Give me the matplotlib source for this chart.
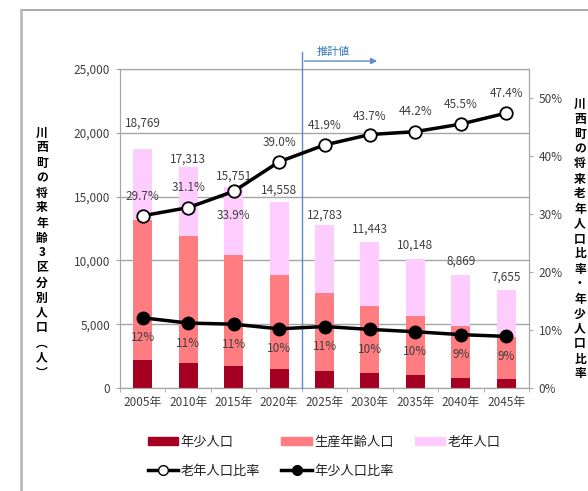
import numpy as np
import matplotlib
matplotlib.use("Agg")
import matplotlib.pyplot as plt
from matplotlib.lines import Line2D
from matplotlib.patches import Patch

plt.rcParams['font.family'] = ['Noto Sans CJK JP', 'DejaVu Sans']

years = ['2005年', '2010年', '2015年', '2020年', '2025年', '2030年', '2035年', '2040年', '2045年']
total = [18769, 17313, 15751, 14558, 12783, 11443, 10148, 8869, 7655]
youth = [2230, 1940, 1730, 1490, 1330, 1170, 985, 820, 680]
working = [10965, 9989, 8681, 7390, 6097, 5272, 4678, 4014, 3347]
elderly = [5574, 5384, 5340, 5678, 5356, 5001, 4485, 4035, 3628]
eld_ratio = [29.7, 31.1, 33.9, 39.0, 41.9, 43.7, 44.2, 45.5, 47.4]
youth_ratio = [12.1, 11.2, 11.0, 10.2, 10.6, 10.1, 9.7, 9.2, 8.9]

# label offsets in pixels (hand tuned to the original layout)
tot_off = [-25, -8, -11, -12, -10, -13, -13, -14, -13]
eld_off = [-19, -20, 24, -19, -19, -18, -20, -20, -20]

c_youth = '#A50021'
c_work = '#FF7C80'
c_eld = '#FFCCFF'
txt = '#404040'
grid = '#A6A6A6'

fig = plt.figure(figsize=(5.88, 4.91), dpi=100)
ax = fig.add_axes([120/588, 1-388/491, 409/588, 319/491])
x = np.arange(len(years))
w = 0.42
ax.bar(x, youth, w, color=c_youth, zorder=2)
ax.bar(x, working, w, bottom=youth, color=c_work, zorder=2)
ax.bar(x, elderly, w, bottom=np.array(youth)+np.array(working), color=c_eld, zorder=2)

ax.set_xlim(-0.5, len(years)-0.5)
ax.set_ylim(0, 25000)
ax.set_yticks(np.arange(0, 25001, 5000))
ax.set_yticklabels([f'{v:,}' for v in range(0, 25001, 5000)], fontsize=8.5, color=txt)
ax.set_xticks(x)
ax.set_xticklabels(years, fontsize=8.5, color=txt)
ax.set_xticks(np.arange(-0.5, len(years)), minor=True)
ax.tick_params(axis='x', which='major', length=0, pad=6)
ax.tick_params(axis='x', which='minor', length=3, color=grid)
ax.tick_params(axis='y', length=3, color=grid, pad=4)
ax.yaxis.grid(True, color=grid, lw=1)
ax.set_axisbelow(True)
for s in ax.spines.values():
    s.set_color(grid)

for i, t in enumerate(total):
    ax.annotate(f'{t:,}', (x[i], t), xytext=(0, -tot_off[i]), textcoords='offset pixels',
                ha='center', va='center', fontsize=8.5, color=txt, zorder=5)

ax2 = ax.twinx()
ax2.set_ylim(0, 55)
ax2.set_yticks(np.arange(0, 51, 10))
ax2.set_yticklabels([f'{v}%' for v in range(0, 51, 10)], fontsize=8.5, color=txt)
ax2.tick_params(axis='y', length=3, color=grid, pad=4)
for s in ax2.spines.values():
    s.set_color(grid)

ax2.plot(x, eld_ratio, color='black', lw=2.5, marker='o', ms=9, mfc='white', mec='black', mew=1.3, zorder=4)
ax2.plot(x, youth_ratio, color='black', lw=2.5, marker='o', ms=9, mfc='black', mec='black', zorder=4)
for i, r in enumerate(eld_ratio):
    ax2.annotate(f'{r:.1f}%', (x[i], r), xytext=(0, -eld_off[i]), textcoords='offset pixels',
                 ha='center', va='center', fontsize=8.5, color=txt, zorder=5)
for i, r in enumerate(youth_ratio):
    ax2.annotate(f'{r:.0f}%', (x[i], r), xytext=(0, -20), textcoords='offset pixels',
                 ha='center', va='center', fontsize=8.5, color=txt, zorder=5)

# projection marker
blue = '#5B8BD0'
ax2.axvline(3.5, ymin=0, ymax=1.053, color=blue, lw=1, clip_on=False, zorder=3)
ax2.annotate('', xy=(5.22, 1.025), xytext=(3.5, 1.025), xycoords=('data', 'axes fraction'),
             arrowprops=dict(arrowstyle='-|>', color=blue, lw=1, mutation_scale=9))
ax2.text(4.19, 1.053, '推計値', transform=ax2.get_xaxis_transform(), ha='center', va='center',
         fontsize=8, color='#2E75B6')

# vertical axis titles
left_title = '川西町の将来年齢3区分別人口︵人︶'
right_title = '川西町の将来老年人口比率・年少人口比率'
fig.text(42/588, 1-253/491, '\n'.join(left_title), ha='center', va='center', fontsize=8.5,
         fontweight='bold', linespacing=1.2)
fig.text(580/588, 1-239/491, '\n'.join(right_title), ha='center', va='center', fontsize=8.5,
         fontweight='bold', linespacing=1.2)

# outer frame
fig.add_artist(Line2D([21/588, 1], [1-9.5/491, 1-9.5/491], color='#999999', lw=1.2))
fig.add_artist(Line2D([21/588, 21/588], [0, 1-9.5/491], color='#BBBBBB', lw=2))

handles = [Patch(color=c_youth), Line2D([], [], color='black', lw=2.5, marker='o', ms=7, mfc='white', mec='black'),
           Patch(color=c_work), Line2D([], [], color='black', lw=2.5, marker='o', ms=7, mfc='black'),
           Patch(color=c_eld)]
labels = ['年少人口', '老年人口比率', '生産年齢人口', '年少人口比率', '老年人口']
fig.legend(handles, labels, ncol=3, loc='upper left', bbox_to_anchor=(136/588, 1-424/491),
           frameon=False, fontsize=9.5, handlelength=2.3, handleheight=0.5, handletextpad=0.2,
           columnspacing=1.6, labelspacing=1.2, labelcolor='#222222')

fig.savefig('out.png', dpi=100)
